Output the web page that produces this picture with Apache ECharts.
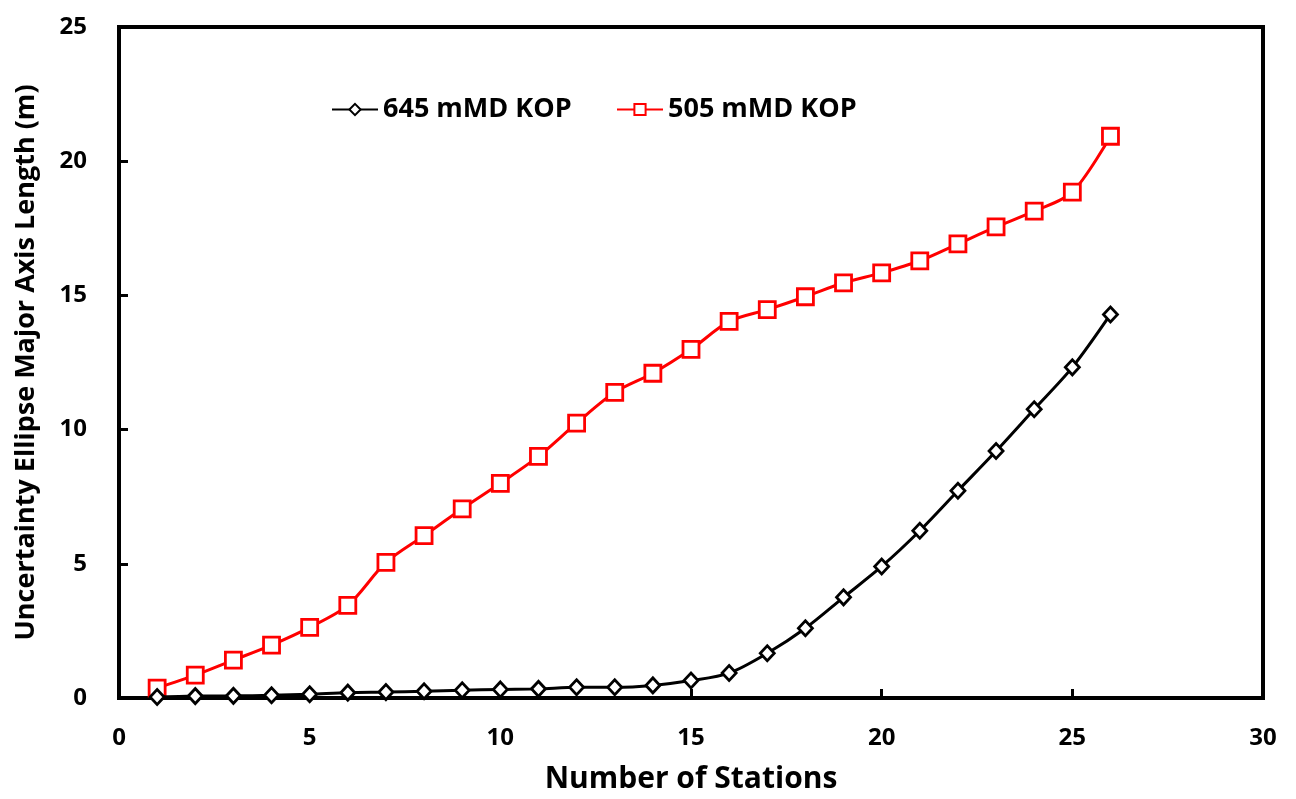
<!DOCTYPE html>
<html><head><meta charset="utf-8">
<script src="https://cdn.jsdelivr.net/npm/echarts@6/dist/echarts.min.js"></script>
<style>html,body{margin:0;padding:0;background:#fff}#c{width:1296px;height:799px}</style>
</head><body><div id="c"></div>
<script>
const stations = [1,2,3,4,5,6,7,8,9,10,11,12,13,14,15,16,17,18,19,20,21,22,23,24,25,26];
const kop645 = [0.04,0.07,0.08,0.1,0.14,0.2,0.22,0.25,0.29,0.32,0.34,0.4,0.4,0.47,0.65,0.93,1.67,2.6,3.75,4.9,6.23,7.72,9.2,10.76,12.32,14.29];
const kop505 = [0.37,0.85,1.41,1.97,2.63,3.45,5.05,6.05,7.05,8.0,9.0,10.24,11.39,12.1,12.99,14.03,14.47,14.95,15.47,15.84,16.29,16.92,17.55,18.14,18.85,20.93];
const xTicks = [0,5,10,15,20,25,30];
const yTicks = [0,5,10,15,20,25];
const font = '"Open Sans", "Liberation Sans", sans-serif';
const chart = echarts.init(document.getElementById('c'));
const legendText = {fontFamily:font,fontWeight:'bold',fontSize:27,color:'#000'};
chart.setOption({
  animation:false,
  backgroundColor:'#fff',
  textStyle:{fontFamily:font},
  grid:{left:119,top:27,right:33,bottom:98,show:true,borderColor:'#000',borderWidth:4,backgroundColor:'transparent'},
  legend:[
    {left:326,top:91,itemWidth:46,itemHeight:14,itemGap:4,textStyle:legendText,data:['645 mMD KOP']},
    {left:611,top:91,itemWidth:46,itemHeight:14,itemGap:4,textStyle:legendText,data:['505 mMD KOP']}
  ],
  xAxis:{type:'value',min:xTicks[0],max:xTicks[xTicks.length-1],interval:5,
    name:'Number of Stations',nameLocation:'middle',nameGap:66,
    nameTextStyle:{fontFamily:font,fontWeight:'bold',fontSize:30,color:'#000'},
    axisLine:{lineStyle:{color:'#000',width:4}},
    axisTick:{inside:true,length:9,lineStyle:{color:'#000',width:3}},
    axisLabel:{margin:28,fontWeight:'bold',fontSize:24,color:'#000',fontFamily:font},
    splitLine:{show:false}},
  yAxis:{type:'value',min:yTicks[0],max:yTicks[yTicks.length-1],interval:5,
    name:'Uncertainty Ellipse Major Axis Length (m)',nameLocation:'middle',nameGap:79,
    nameTextStyle:{fontFamily:font,fontWeight:'bold',fontSize:27,color:'#000'},
    axisLine:{lineStyle:{color:'#000',width:4}},
    axisTick:{inside:true,length:9,lineStyle:{color:'#000',width:3}},
    axisLabel:{margin:32,fontWeight:'bold',fontSize:24,color:'#000',fontFamily:font},
    splitLine:{show:false}},
  series:[
    {name:'645 mMD KOP',type:'line',smooth:0.3,data:stations.map((s,i)=>[s,kop645[i]]),
     symbol:'diamond',symbolSize:[14,15],
     lineStyle:{color:'#000',width:3},
     itemStyle:{color:'#fff',borderColor:'#000',borderWidth:2.8},z:3},
    {name:'505 mMD KOP',type:'line',smooth:0.3,data:stations.map((s,i)=>[s,kop505[i]]),
     symbol:'rect',symbolSize:16,
     lineStyle:{color:'#ff0000',width:3},
     itemStyle:{color:'#fff',borderColor:'#ff0000',borderWidth:2.8},z:2}
  ]
});
</script></body></html>
